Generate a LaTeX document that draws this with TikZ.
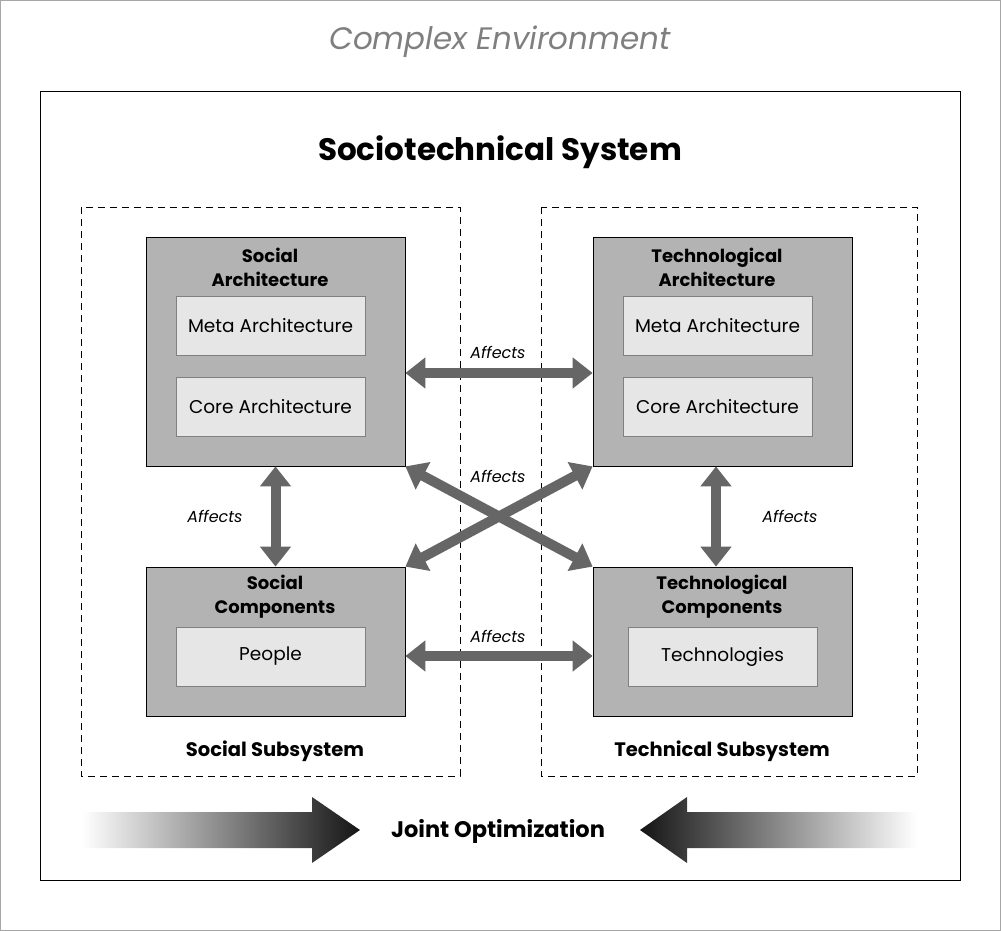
\documentclass[tikz,border=0pt]{standalone}
\usepackage{fontspec}
\setmainfont{Poppins}
\usetikzlibrary{arrows.meta}
\definecolor{boxgray}{HTML}{B3B3B3}
\definecolor{innergray}{HTML}{E6E6E6}
\definecolor{arrowgray}{HTML}{666666}
\definecolor{titlegray}{HTML}{7F7F7F}
\tikzset{
  bigbox/.style={draw=black, fill=boxgray, line width=0.8pt, inner sep=0pt, minimum width=259pt},
  innerbox/.style={draw=gray, fill=innergray, line width=0.6pt, inner sep=0pt, minimum width=189pt, minimum height=59pt, font=\fontsize{18.5}{22}\selectfont},
  boxtitle/.style={align=center, font=\bfseries\fontsize{18}{24}\selectfont, inner sep=0pt},
  subtitle/.style={font=\bfseries\fontsize{19.5}{22}\selectfont, inner sep=0pt},
  affects/.style={font=\itshape\fontsize{16}{18}\selectfont, inner sep=0pt},
  dbl/.style={arrowgray, line width=10pt, {Triangle[width=30pt,length=20pt]}-{Triangle[width=30pt,length=20pt]}},
  subsys/.style={draw=black, dash pattern=on 7pt off 5pt, line width=0.7pt}
}
\begin{document}
\begin{tikzpicture}[x=1pt,y=-1pt]
\useasboundingbox (0,0) rectangle (1001,931);
\draw[gray!70, line width=1pt] (0.5,0.5) rectangle (1000.5,930.5);
\node[font=\itshape\fontsize{31}{36}\selectfont, text=titlegray, inner sep=0pt] (env) at (500,42) {Complex Environment};
\draw[black, line width=0.8pt] (40.5,91) rectangle (960,880);
\node[font=\bfseries\fontsize{31}{34}\selectfont, inner sep=0pt] (sts) at (500,152) {Sociotechnical System};
% subsystems
\draw[subsys] (81,207) rectangle (460,776);
\draw[subsys] (541,207) rectangle (917,776);
% boxes
\node[bigbox, minimum height=229pt] (sa) at (275.5,351.5) {};
\node[bigbox, minimum height=229pt] (ta) at (722.5,351.5) {};
\node[bigbox, minimum height=149pt] (sc) at (275.5,641.5) {};
\node[bigbox, minimum height=149pt] (tc) at (722.5,641.5) {};
\node[boxtitle] (sat) at (270,267) {Social\\Architecture};
\node[boxtitle] (tat) at (717,267) {Technological\\Architecture};
\node[boxtitle] (sct) at (275,597) {Social\\Components};
\node[boxtitle] (tct) at (722,597) {Technological\\Components};
\node[innerbox] (sam) at (270.5,326) {Meta Architecture};
\node[innerbox] (sac) at (270.5,406.5) {Core Architecture};
\node[innerbox] (tam) at (717.5,326) {Meta Architecture};
\node[innerbox] (tac) at (717.5,406.5) {Core Architecture};
\node[innerbox] (scp) at (270.5,656.5) {People};
\node[innerbox] (tcp) at (722.5,656.5) {Technologies};
\node[subtitle] (sss) at (275,751) {Social Subsystem};
\node[subtitle] (tss) at (722,751) {Technical Subsystem};
% connectors
\draw[dbl] ([yshift=-21.5pt]sa.east) -- ([yshift=-21.5pt]ta.west);
\draw[dbl] ([yshift=-14.5pt]sc.east) -- ([yshift=-14.5pt]tc.west);
\draw[dbl] (sa.south) -- (sc.north);
\draw[dbl] ([xshift=-6.5pt]ta.south) -- ([xshift=-6.5pt]tc.north);
\draw[dbl] (sa.south east) -- (tc.north west);
\draw[dbl] (ta.south west) -- (sc.north east);
\node[affects] (a1) at (498,352) {Affects};
\node[affects] (a2) at (498,476) {Affects};
\node[affects] (a3) at (215,516) {Affects};
\node[affects] (a4) at (790,516) {Affects};
\node[affects] (a5) at (498,636) {Affects};
% joint optimization
\shade[left color=white, right color=black!92]
  (82,812) -- (312,812) -- (312,797) -- (360,830) -- (312,863) -- (312,848) -- (82,848) -- cycle;
\shade[left color=black!92, right color=white]
  (917,812) -- (687,812) -- (687,797) -- (640,830) -- (687,863) -- (687,848) -- (917,848) -- cycle;
\node[font=\bfseries\fontsize{22.5}{26}\selectfont, inner sep=0pt] (jo) at (498,831) {Joint Optimization};
\end{tikzpicture}
\end{document}
